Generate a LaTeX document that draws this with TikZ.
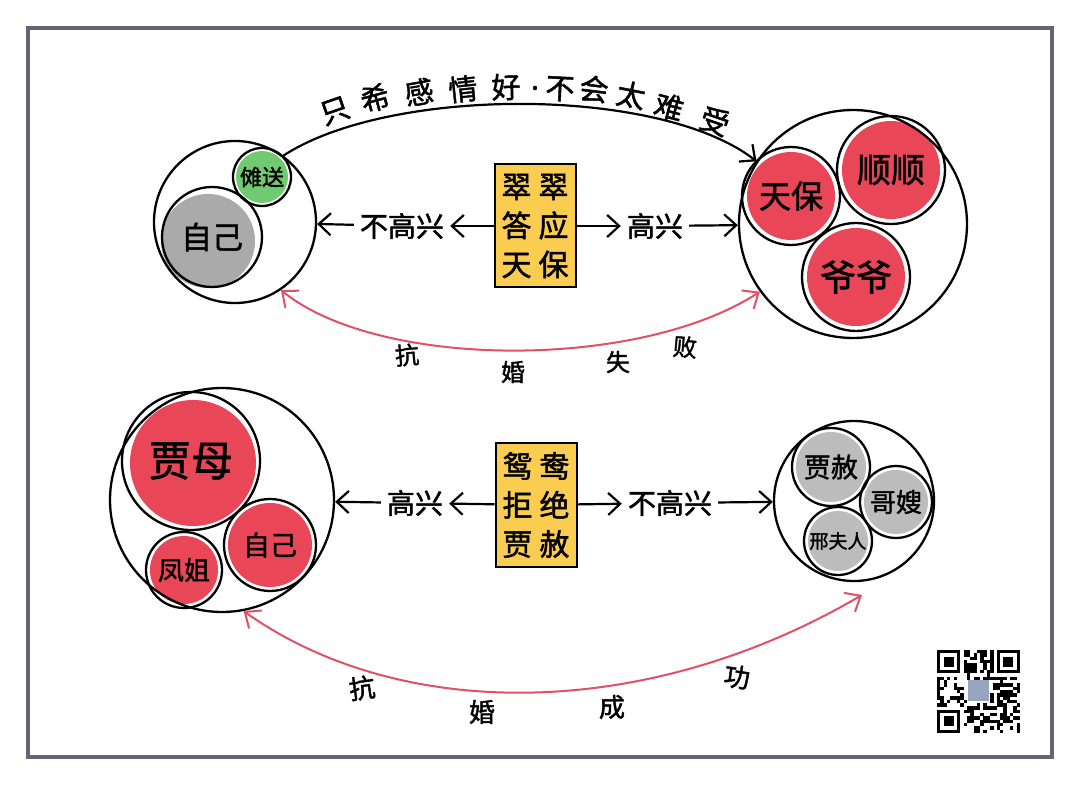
\documentclass[tikz,border=0pt]{standalone}
\usepackage{fontspec}
\newfontfamily\cjk{Noto Sans CJK SC}[FakeBold=1.6]
\usetikzlibrary{arrows.meta}
\definecolor{mred}{RGB}{233,70,88}
\definecolor{mgreen}{RGB}{112,202,112}
\definecolor{mgray}{RGB}{170,170,170}
\definecolor{lgray}{RGB}{188,188,188}
\definecolor{myellow}{RGB}{250,204,80}
\definecolor{arcred}{RGB}{224,80,102}
\definecolor{framegray}{RGB}{100,100,118}
\definecolor{logoblue}{RGB}{150,165,190}
\newcommand\fsz[1]{\fontsize{#1}{#1}\selectfont}
\begin{document}
\begin{tikzpicture}[x=1pt,y=-1pt,
  ring/.style={circle,draw=black,line width=2.3pt,inner sep=0pt,font=\cjk,text=black},
  boxnode/.style={draw=black,line width=2pt,fill=myellow,minimum width=81pt,minimum height=123pt,inner sep=0pt,align=center,font=\cjk\fontsize{30}{39}\selectfont},
  lbl/.style={font=\cjk\fsz{28},inner sep=6pt},
  arc/.style={font=\cjk\fsz{29},inner sep=0pt},
  redlbl/.style={font=\cjk\fsz{24},inner sep=0pt},
  arr/.style={line width=2.2pt,-{Straight Barb[length=12pt,width=22pt]}},
  rarr/.style={draw=arcred,line width=2pt,{Straight Barb[length=13pt,width=22pt]}-{Straight Barb[length=13pt,width=22pt]}}
]
\useasboundingbox (0,0) rectangle (1080,786);
\fill[white] (0,0) rectangle (1080,786);
\draw[framegray,line width=3.5pt] (28,28) rectangle (1052,757);

% ---------- top row fills ----------
\fill[mgreen] (262,177) circle (26);
\fill[mgray] (208,241) circle (47);
\fill[mred] (791,196) circle (44);
\fill[mred] (891,170) circle (49);
\fill[mred] (856,277) circle (49);

% ---------- top row circles ----------
\node[ring,minimum size=162pt] (bigL) at (235,222) {};
\node[ring,minimum size=58pt,font=\cjk\fsz{22}] (nuo) at (262,177) {傩送};
\node[ring,minimum size=100pt,font=\cjk\fsz{31}] (zj1) at (212,237) {自己};
\node[ring,minimum size=228pt] (bigR) at (853,224) {};
\node[ring,minimum size=98pt,font=\cjk\fsz{32}] (tb) at (791,196) {天保};
\node[ring,minimum size=108pt,font=\cjk\fsz{34}] (ss) at (891,170) {顺顺};
\node[ring,minimum size=108pt,font=\cjk\fsz{36}] (yy) at (856,277) {爷爷};

% ---------- top box and arrows ----------
\node[boxnode] (b1) at (535,226) {翠\hspace{7pt}翠\\答\hspace{7pt}应\\天\hspace{7pt}保};
\node[lbl] (t1l) at (402,226) {不高兴};
\node[lbl] (t1r) at (655,226) {高兴};
\draw[arr] (b1) -- (t1l);
\draw[arr] (t1l) -- (bigL);
\draw[arr] (b1) -- (t1r);
\draw[arr] (t1r) -- (bigR);

% ---------- top arc with text ----------
\draw[arr] (nuo.45) .. controls (390,86) and (660,86) .. (bigR.147);
\node[arc,rotate=19] (a1) at (335,111) {只};
\node[arc,rotate=15] (a2) at (375,98) {希};
\node[arc,rotate=10] (a3) at (419,92) {感};
\node[arc,rotate=6] (a4) at (463,89) {情};
\node[arc,rotate=2] (a5) at (506,87) {好};
\node[arc] (a6) at (535,88) {.};
\node[arc,rotate=-3] (a7) at (560,89) {不};
\node[arc,rotate=-7] (a8) at (594,89) {会};
\node[arc,rotate=-11] (a9) at (631,95) {太};
\node[arc,rotate=-15] (a10) at (669,107) {难};
\node[arc,rotate=-19] (a11) at (715,121) {受};

% ---------- top red arc ----------
\draw[rarr] (bigL.-56) .. controls (380,370) and (640,370) .. (bigR.216);
\node[redlbl,rotate=5] (r1) at (407,355) {抗};
\node[redlbl] (r2) at (513,372) {婚};
\node[redlbl] (r3) at (618,362) {失};
\node[redlbl,rotate=-5] (r4) at (685,347) {败};

% ---------- bottom row fills ----------
\fill[mred] (193,463) circle (63);
\fill[mred] (184,570) circle (34);
\fill[mred] (270,545) circle (42);
\fill[lgray] (831,467) circle (35);
\fill[lgray] (896,502) circle (32);
\fill[lgray] (838,541) circle (30);

% ---------- bottom row circles ----------
\node[ring,minimum size=224pt] (bigL2) at (222,500) {};
\node[ring,minimum size=138pt,font=\cjk\fsz{42}] (jm) at (191,461) {贾母};
\node[ring,minimum size=76pt,font=\cjk\fsz{26}] (fj) at (184,570) {凤姐};
\node[ring,minimum size=92pt,font=\cjk\fsz{27}] (zj2) at (270,545) {自己};
\node[ring,minimum size=160pt] (bigR2) at (854,501) {};
\node[ring,minimum size=78pt,font=\cjk\fsz{27}] (js) at (831,467) {贾赦};
\node[ring,minimum size=72pt,font=\cjk\fsz{26}] (gs) at (896,502) {哥嫂};
\node[ring,minimum size=68pt,font=\cjk\fsz{19}] (xfr) at (838,541) {邢夫人};

% ---------- bottom box and arrows ----------
\node[boxnode] (b2) at (536,505) {鸳\hspace{7pt}鸯\\拒\hspace{7pt}绝\\贾\hspace{7pt}赦};
\node[lbl] (t2l) at (415,503) {高兴};
\node[lbl] (t2r) at (670,503) {不高兴};
\draw[arr] (b2) -- (t2l);
\draw[arr] (t2l) -- (bigL2);
\draw[arr] (b2) -- (t2r);
\draw[arr] (t2r) -- (bigR2);

% ---------- bottom red arc ----------
\coordinate (rend) at (862,595);
\draw[rarr] (bigL2.-79) .. controls (400,722) and (645,722) .. (rend);
\node[redlbl,font=\cjk\fsz{26},rotate=8] (s1) at (362,688) {抗};
\node[redlbl,font=\cjk\fsz{26}] (s2) at (482,712) {婚};
\node[redlbl,font=\cjk\fsz{26}] (s3) at (612,707) {成};
\node[redlbl,font=\cjk\fsz{26},rotate=-8] (s4) at (737,677) {功};

% ---------- QR code ----------
\pgfmathsetseed{4242}
\foreach \i in {0,...,24}{
  \foreach \j in {0,...,24}{
    \pgfmathtruncatemacro\qa{((\i<8)&&(\j<8))||((\i>16)&&(\j<8))||((\i<8)&&(\j>16))||((\i>8)&&(\i<16)&&(\j>8)&&(\j<16))}
    \pgfmathtruncatemacro\qb{rnd<0.5}
    \ifnum\qa=0 \ifnum\qb=1
      \fill[black] ({937+\i*3.32},{650+\j*3.32}) rectangle +(3.4,3.4);
    \fi\fi
  }
}
\foreach \ox/\oy in {937/650, 996.76/650, 937/709.76}{
  \fill[black] (\ox,\oy) rectangle +(23.24,23.24);
  \fill[white] ({\ox+3.32},{\oy+3.32}) rectangle +(16.6,16.6);
  \fill[black] ({\ox+6.64},{\oy+6.64}) rectangle +(9.96,9.96);
}
\fill[logoblue] (968,680) rectangle +(21,21);
\end{tikzpicture}
\end{document}
